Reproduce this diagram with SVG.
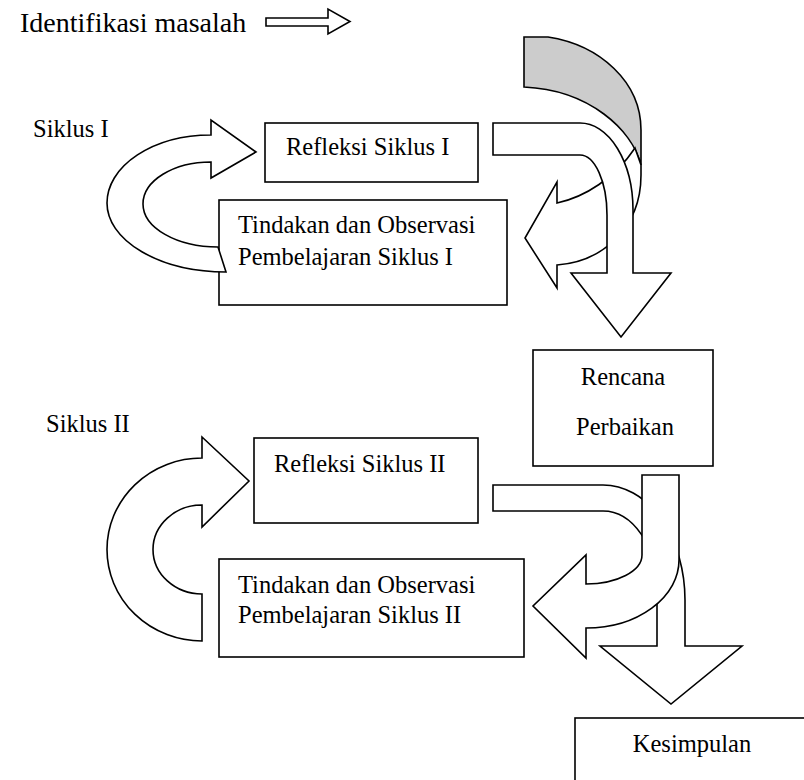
<svg xmlns="http://www.w3.org/2000/svg" width="804" height="780" viewBox="0 0 804 780">
<style>
.box{fill:#fff;stroke:#000;stroke-width:1.6}
.arr{fill:#fff;stroke:#000;stroke-width:1.6;stroke-linejoin:miter}
.shade{fill:#cccccc;stroke:#000;stroke-width:1.6}
.mid{text-anchor:middle}
</style>
<rect width="804" height="780" fill="#fff"/>
<g font-family="'Liberation Serif', 'DejaVu Serif', serif" font-size="24.5" fill="#000">
<g id="title">
<text x="20" y="32" font-size="28">Identifikasi masalah</text>
<path class="arr" d="M266,18 L328,18 L328,9 L350,21.5 L328,34 L328,26 L266,26 Z"/>
</g>
<g id="label-siklus1"><text x="33" y="137">Siklus I</text></g>
<g id="label-siklus2"><text x="46" y="432">Siklus II</text></g>
<g id="tindakan1">
<rect class="box" x="219" y="200" width="288" height="105"/>
<text x="238" y="233">Tindakan dan Observasi</text>
<text x="238" y="265">Pembelajaran Siklus I</text>
</g>
<g id="refleksi1">
<rect class="box" x="265" y="123" width="213" height="59"/>
<text x="286" y="155">Refleksi Siklus I</text>
</g>
<g id="rencana">
<rect class="box" x="533" y="350" width="180" height="116"/>
<text class="mid" x="623" y="385">Rencana</text>
<text class="mid" x="625" y="435">Perbaikan</text>
</g>
<g id="refleksi2">
<rect class="box" x="254" y="438" width="224" height="85"/>
<text x="274" y="472">Refleksi Siklus II</text>
</g>
<g id="tindakan2">
<rect class="box" x="219" y="559" width="305" height="98"/>
<text x="238" y="593">Tindakan dan Observasi</text>
<text x="238" y="623">Pembelajaran Siklus II</text>
</g>
<g id="kesimpulan">
<rect class="box" x="575" y="718" width="260" height="90"/>
<text class="mid" x="692" y="752">Kesimpulan</text>
</g>
</g>
<g id="connectors">
<path class="arr" d="M211,135 A104,68 0 0 0 107,203 A119,69 0 0 0 226,272 L218,247 A75,43 0 0 1 143,204 A68,42 0 0 1 211,162 L211,178 L256,152 L211,120 Z"/>
<path class="shade" d="M524,37 L548,37 C600,45 641,82 641,130 L641,165 C632,130 590,90 524,87 Z"/>
<path class="arr" d="M557,203 C585,197 615,178 635,148 L641,165 L641,175 C641,230 600,262 557,265 L557,288 L525,238 L557,182 Z"/>
<path class="arr" d="M493,123 L580,123 A53,87 0 0 1 633,210 L633,273 L671,273 L621,337 L571,273 L607,273 L607,215 A27,60 0 0 0 580,155 L493,155 Z"/>
<path class="arr" d="M202,458 A95,91.5 0 0 0 107,549.5 A95,91.5 0 0 0 202,641 L202,594 A49,44.5 0 0 1 153,549.5 A49,44.5 0 0 1 202,505 L202,527 L249,481 L202,437 Z"/>
<path class="arr" d="M493,485 L603,485 A82,115 0 0 1 685,600 L685,646 L742,646 L671,704 L600,646 L657,646 L657,590 A54,79 0 0 0 603,511 L493,511 Z"/>
<path class="arr" d="M642,475 L679,475 L679,560 A93,68 0 0 1 586,628 L586,658 L533,606 L586,555 L586,584 A56,29 0 0 0 642,555 Z"/>
</g>
</svg>
